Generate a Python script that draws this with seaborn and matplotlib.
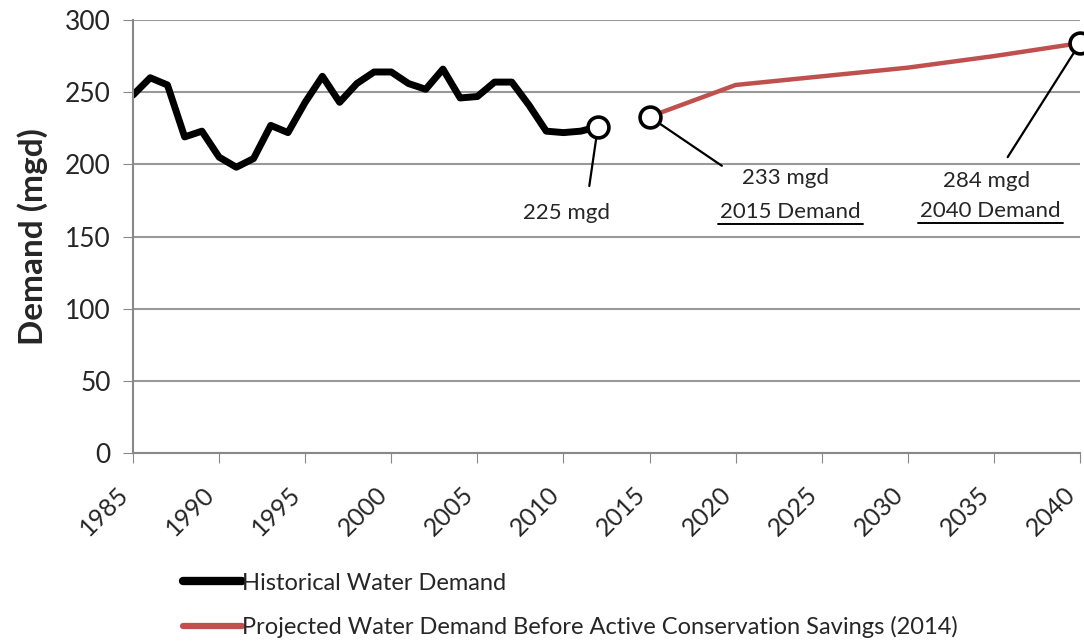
import pandas as pd
import numpy as np
import matplotlib.pyplot as plt
import seaborn as sns

# Historical and projected water demand (mgd)
hist_years = list(range(1985, 2013))
hist_demand = [248, 260, 255, 219, 223, 205, 198, 204, 227, 222, 243, 261, 243, 256,
               264, 264, 256, 252, 266, 246, 247, 257, 257, 241, 223, 222, 223, 226]
proj_years = [2015, 2020, 2025, 2030, 2035, 2040]
proj_demand = [233, 255, 261, 267, 275, 284]

x_ticks = list(range(1985, 2041, 5))
y_ticks = [0, 50, 100, 150, 200, 250, 300]

hist_df = pd.DataFrame({'year': hist_years, 'demand': hist_demand})
proj_df = pd.DataFrame({'year': proj_years, 'demand': proj_demand})

sns.set_style('white')
plt.rcParams['font.family'] = ['Lato', 'DejaVu Sans']

fig = plt.figure(figsize=(10.84, 6.42), dpi=100)
ax = fig.add_axes([0.1227, 0.2944, 0.8736, 0.6744])

sns.lineplot(data=hist_df, x='year', y='demand', ax=ax, color='black', linewidth=5,
             label='Historical Water Demand', solid_joinstyle='round', solid_capstyle='round')
sns.lineplot(data=proj_df, x='year', y='demand', ax=ax, color='#c0504d', linewidth=3.2,
             label='Projected Water Demand Before Active Conservation Savings (2014)')

# highlighted points with callout lines
points = [(hist_years[-1], hist_demand[-1]), (proj_years[0], proj_demand[0]),
          (proj_years[-1], proj_demand[-1])]
line_ends = [(2011.5, 185), (2019.2, 199), (2035.8, 205)]
for (px, py), (lx, ly) in zip(points, line_ends):
    ax.annotate('', xy=(px, py), xytext=(lx, ly),
                arrowprops=dict(arrowstyle='-', color='black', lw=1.6, shrinkA=0, shrinkB=9))
    ax.plot(px, py, 'o', ms=15, mfc='white', mec='black', mew=2.6, clip_on=False, zorder=5)

ax.text(2010.2, 166, '225 mgd', ha='center', va='center', fontsize=16)
ax.text(2022.9, 190.5, '233 mgd', ha='center', va='center', fontsize=16)
ax.text(2023.2, 167, '2015 Demand', ha='center', va='center', fontsize=16)
ax.plot([2019.0, 2027.4], [158.5, 158.5], color='black', lw=1.4)
ax.text(2034.6, 188.5, '284 mgd', ha='center', va='center', fontsize=16)
ax.text(2034.8, 168, '2040 Demand', ha='center', va='center', fontsize=16)
ax.plot([2030.6, 2039.0], [159.5, 159.5], color='black', lw=1.4)

ax.set_xlim(1985, 2040)
ax.set_ylim(0, 300)
ax.set_xticks(x_ticks)
ax.set_yticks(y_ticks)
ax.set_xticklabels([str(t) for t in x_ticks], rotation=45, ha='right', va='bottom',
                   rotation_mode='anchor', fontsize=18)
ax.tick_params(axis='y', labelsize=19, length=7, color='#888888', direction='out', left=True, pad=9)
ax.tick_params(axis='x', length=7, color='#888888', direction='out', bottom=True, pad=26)
ax.set_xlabel('')
ax.set_ylabel('Demand (mgd)', fontsize=24, fontweight='bold', labelpad=12)
ax.grid(axis='y', color='#999999', lw=1.5)
ax.grid(axis='x', visible=False)
for s in ['top', 'right']:
    ax.spines[s].set_visible(False)
for s in ['left', 'bottom']:
    ax.spines[s].set_color('#888888')
    ax.spines[s].set_linewidth(1.5)

handles, labels = ax.get_legend_handles_labels()
ax.get_legend().remove()
leg = fig.legend(handles, labels, loc='upper left', bbox_to_anchor=(0.169, 0.108), frameon=False,
                 fontsize=17, handlelength=2.5, handletextpad=0.0, labelspacing=0.95,
                 borderaxespad=0, borderpad=0)
leg.legend_handles[0].set_linewidth(6)
leg.legend_handles[1].set_linewidth(4.5)

plt.savefig('out.png', dpi=100)
